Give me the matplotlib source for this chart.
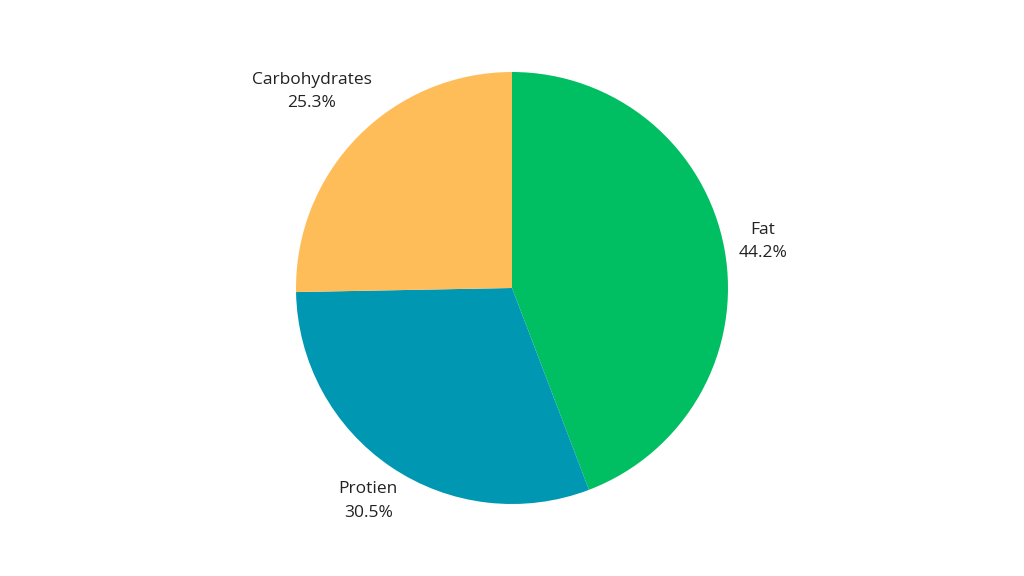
import matplotlib
matplotlib.use("Agg")
import matplotlib.pyplot as plt
import numpy as np

categories = ["Fat", "Protien", "Carbohydrates"]
values = [44.2, 30.5, 25.3]
colors = ["#00BF63", "#0097B2", "#FFBD59"]
label_dist = [1.18, 1.19, 1.30]

plt.rcParams['font.family'] = ['Open Sans', 'DejaVu Sans']

fig = plt.figure(figsize=(10.24, 5.76), dpi=100)
ax = fig.add_axes([0, 0, 1, 1])
labels = [f"{c}\n{v:.1f}%" for c, v in zip(categories, values)]
wedges, texts = ax.pie(values, colors=colors, startangle=90, counterclock=False,
                       labels=labels, labeldistance=1.2,
                       textprops=dict(fontsize=12.5, color="#222222", linespacing=1.6))
for w, t, d in zip(wedges, texts, label_dist):
    ang = np.deg2rad((w.theta1 + w.theta2) / 2)
    t.set_position((d * np.cos(ang), d * np.sin(ang)))
    t.set_horizontalalignment('center')
    t.set_verticalalignment('center')
R = 216.0
ax.set_xlim(-512 / R, 512 / R)
ax.set_ylim(-288 / R, 288 / R)
ax.set_aspect('equal')
ax.axis('off')
fig.savefig("out.png", dpi=100)
